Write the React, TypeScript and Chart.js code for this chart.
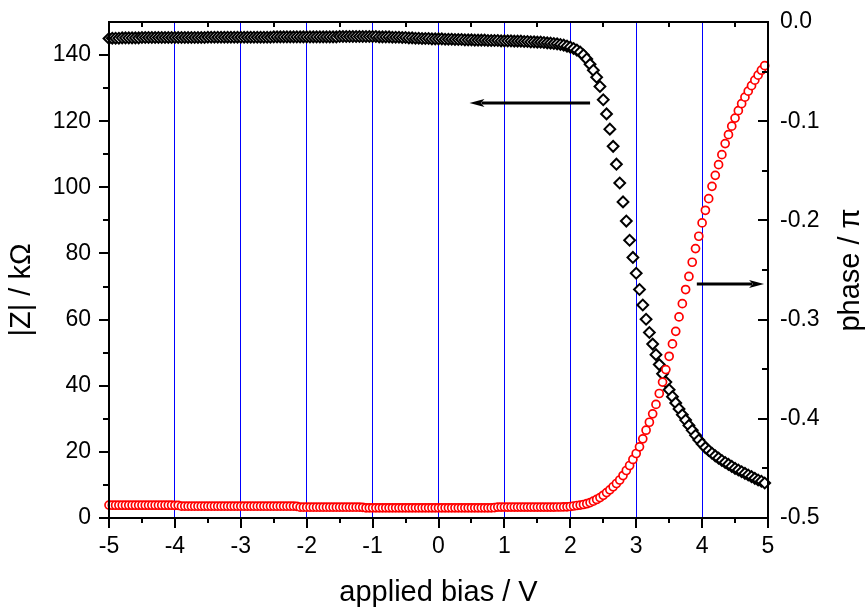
import React, { useEffect, useRef } from "react";
import { Chart, registerables } from "chart.js";

Chart.register(...registerables);

// applied bias (V)
const BIAS: number[] = [
  -5, -4.95, -4.9, -4.85, -4.8, -4.75, -4.7, -4.65, -4.6, -4.55, -4.5, -4.45, -4.4, -4.35, -4.3, -4.25, -4.2, -4.15, -4.1, -4.05,
  -4, -3.95, -3.9, -3.85, -3.8, -3.75, -3.7, -3.65, -3.6, -3.55, -3.5, -3.45, -3.4, -3.35, -3.3, -3.25, -3.2, -3.15, -3.1, -3.05,
  -3, -2.95, -2.9, -2.85, -2.8, -2.75, -2.7, -2.65, -2.6, -2.55, -2.5, -2.45, -2.4, -2.35, -2.3, -2.25, -2.2, -2.15, -2.1, -2.05,
  -2, -1.95, -1.9, -1.85, -1.8, -1.75, -1.7, -1.65, -1.6, -1.55, -1.5, -1.45, -1.4, -1.35, -1.3, -1.25, -1.2, -1.15, -1.1, -1.05,
  -1, -0.95, -0.9, -0.85, -0.8, -0.75, -0.7, -0.65, -0.6, -0.55, -0.5, -0.45, -0.4, -0.35, -0.3, -0.25, -0.2, -0.15, -0.1, -0.05,
  0, 0.05, 0.1, 0.15, 0.2, 0.25, 0.3, 0.35, 0.4, 0.45, 0.5, 0.55, 0.6, 0.65, 0.7, 0.75, 0.8, 0.85, 0.9, 0.95,
  1, 1.05, 1.1, 1.15, 1.2, 1.25, 1.3, 1.35, 1.4, 1.45, 1.5, 1.55, 1.6, 1.65, 1.7, 1.75, 1.8, 1.85, 1.9, 1.95,
  2, 2.05, 2.1, 2.15, 2.2, 2.25, 2.3, 2.35, 2.4, 2.45, 2.5, 2.55, 2.6, 2.65, 2.7, 2.75, 2.8, 2.85, 2.9, 2.95,
  3, 3.05, 3.1, 3.15, 3.2, 3.25, 3.3, 3.35, 3.4, 3.45, 3.5, 3.55, 3.6, 3.65, 3.7, 3.75, 3.8, 3.85, 3.9, 3.95,
  4, 4.05, 4.1, 4.15, 4.2, 4.25, 4.3, 4.35, 4.4, 4.45, 4.5, 4.55, 4.6, 4.65, 4.7, 4.75, 4.8, 4.85, 4.9, 4.95,
];

// |Z| (kOhm)
const IMPEDANCE: number[] = [
  145.0, 145.1, 145.1, 145.1, 145.2, 145.2, 145.2, 145.2, 145.2, 145.2, 145.3, 145.3, 145.3, 145.3, 145.3, 145.3, 145.3, 145.3, 145.3, 145.3,
  145.3, 145.3, 145.3, 145.3, 145.3, 145.3, 145.3, 145.3, 145.3, 145.3, 145.4, 145.4, 145.4, 145.4, 145.4, 145.4, 145.4, 145.4, 145.4, 145.4,
  145.4, 145.4, 145.4, 145.4, 145.4, 145.4, 145.4, 145.4, 145.4, 145.4, 145.5, 145.5, 145.5, 145.5, 145.5, 145.5, 145.5, 145.5, 145.5, 145.5,
  145.5, 145.5, 145.5, 145.5, 145.5, 145.5, 145.5, 145.5, 145.5, 145.5, 145.6, 145.6, 145.6, 145.6, 145.6, 145.6, 145.6, 145.6, 145.6, 145.6,
  145.6, 145.6, 145.5, 145.5, 145.5, 145.5, 145.4, 145.4, 145.4, 145.3, 145.3, 145.2, 145.2, 145.1, 145.1, 145.0, 145.0, 145.0, 144.9, 144.9,
  144.9, 144.9, 144.8, 144.8, 144.8, 144.7, 144.7, 144.7, 144.6, 144.6, 144.6, 144.5, 144.5, 144.5, 144.5, 144.4, 144.4, 144.4, 144.4, 144.3,
  144.3, 144.3, 144.3, 144.2, 144.2, 144.2, 144.1, 144.1, 144.0, 144.0, 143.9, 143.9, 143.8, 143.7, 143.6, 143.5, 143.4, 143.2, 143.0, 142.7,
  142.4, 142.0, 141.5, 140.9, 140.0, 138.8, 137.2, 135.4, 133.3, 130.5, 126.5, 122.2, 117.6, 112.4, 107.0, 101.3, 95.6, 89.8, 84.0, 78.8,
  74.0, 69.1, 64.4, 60.1, 56.1, 52.6, 49.4, 46.4, 43.6, 41.1, 38.8, 36.7, 34.8, 33.0, 31.2, 29.6, 28.0, 26.5, 25.0, 23.6,
  22.4, 21.3, 20.4, 19.6, 18.8, 18.1, 17.4, 16.8, 16.2, 15.6, 15.0, 14.5, 14.0, 13.5, 13.0, 12.5, 12.0, 11.5, 11.1, 10.6,
];

// phase (units of pi)
const PHASE: number[] = [
  -0.4870, -0.4871, -0.4871, -0.4871, -0.4871, -0.4871, -0.4871, -0.4871, -0.4871, -0.4871, -0.4871, -0.4871, -0.4871, -0.4871, -0.4871, -0.4871, -0.4871, -0.4871, -0.4871, -0.4871,
  -0.4872, -0.4872, -0.4881, -0.4881, -0.4881, -0.4881, -0.4881, -0.4881, -0.4881, -0.4881, -0.4881, -0.4881, -0.4881, -0.4881, -0.4881, -0.4881, -0.4881, -0.4881, -0.4881, -0.4881,
  -0.4881, -0.4881, -0.4881, -0.4881, -0.4881, -0.4881, -0.4881, -0.4881, -0.4881, -0.4881, -0.4881, -0.4881, -0.4881, -0.4881, -0.4881, -0.4881, -0.4881, -0.4882, -0.4891, -0.4891,
  -0.4891, -0.4891, -0.4891, -0.4891, -0.4891, -0.4891, -0.4891, -0.4891, -0.4891, -0.4891, -0.4891, -0.4891, -0.4891, -0.4891, -0.4891, -0.4891, -0.4891, -0.4892, -0.4897, -0.4897,
  -0.4897, -0.4897, -0.4897, -0.4897, -0.4897, -0.4897, -0.4897, -0.4897, -0.4897, -0.4897, -0.4897, -0.4897, -0.4897, -0.4897, -0.4897, -0.4897, -0.4897, -0.4897, -0.4897, -0.4897,
  -0.4897, -0.4897, -0.4897, -0.4897, -0.4897, -0.4897, -0.4897, -0.4897, -0.4897, -0.4897, -0.4897, -0.4897, -0.4897, -0.4897, -0.4897, -0.4897, -0.4897, -0.4896, -0.4890, -0.4890,
  -0.4890, -0.4890, -0.4890, -0.4890, -0.4890, -0.4890, -0.4890, -0.4890, -0.4890, -0.4890, -0.4890, -0.4890, -0.4890, -0.4890, -0.4890, -0.4890, -0.4889, -0.4889, -0.4888, -0.4887,
  -0.4884, -0.4879, -0.4874, -0.4870, -0.4864, -0.4856, -0.4845, -0.4830, -0.4813, -0.4794, -0.4771, -0.4744, -0.4716, -0.4685, -0.4652, -0.4617, -0.4572, -0.4521, -0.4471, -0.4410,
  -0.4350, -0.4283, -0.4202, -0.4115, -0.4035, -0.3950, -0.3855, -0.3745, -0.3630, -0.3504, -0.3370, -0.3245, -0.3118, -0.2973, -0.2839, -0.2697, -0.2565, -0.2422, -0.2284, -0.2160,
  -0.2025, -0.1898, -0.1781, -0.1657, -0.1546, -0.1438, -0.1337, -0.1226, -0.1136, -0.1050, -0.0969, -0.0894, -0.0823, -0.0758, -0.0697, -0.0642, -0.0586, -0.0536, -0.0486, -0.0440,
];

// axis ticks
const X_MAJOR = [-5, -4, -3, -2, -1, 0, 1, 2, 3, 4, 5];
const X_MINOR = [-4.5, -3.5, -2.5, -1.5, -0.5, 0.5, 1.5, 2.5, 3.5, 4.5];
const Z_MAJOR = [0, 20, 40, 60, 80, 100, 120, 140];
const Z_MINOR = [10, 30, 50, 70, 90, 110, 130];
const PH_MAJOR = [-0.5, -0.4, -0.3, -0.2, -0.1, 0];
const PH_MINOR = [-0.45, -0.35, -0.25, -0.15, -0.05];

// annotation arrows (data coordinates)
const ARROW_Z = { from: 2.3, to: 0.47, value: 125.5 };
const ARROW_PHASE = { from: 3.92, to: 4.94, value: -0.264 };

const X_TITLE = "applied bias / V";
const Y_TITLE = "|Z| / kΩ";
const Y2_TITLE = "phase / π";

const FONT = '"Liberation Sans", Arial, sans-serif';

function drawArrow(ctx: CanvasRenderingContext2D, x1: number, x2: number, y: number) {
  const dir = Math.sign(x2 - x1);
  const headLen = 15;
  const headHalf = 4;
  ctx.beginPath();
  ctx.moveTo(x1, y);
  ctx.lineTo(x2 - dir * headLen * 0.8, y);
  ctx.lineWidth = 3;
  ctx.strokeStyle = "#000";
  ctx.stroke();
  ctx.beginPath();
  ctx.moveTo(x2, y);
  ctx.lineTo(x2 - dir * headLen, y - headHalf);
  ctx.lineTo(x2 - dir * headLen * 0.75, y);
  ctx.lineTo(x2 - dir * headLen, y + headHalf);
  ctx.closePath();
  ctx.fillStyle = "#000";
  ctx.fill();
}

const decorPlugin = {
  id: "decor",
  afterDraw(chart: any) {
    const { ctx, chartArea: a, scales } = chart;
    const xs = scales.x;
    const ys = scales.y;
    const y2s = scales.y2;
    ctx.save();
    ctx.strokeStyle = "#000";
    ctx.lineWidth = 2;
    ctx.lineCap = "butt";
    ctx.beginPath();
    for (const v of X_MAJOR) {
      const px = Math.round(xs.getPixelForValue(v));
      ctx.moveTo(px, a.bottom);
      ctx.lineTo(px, a.bottom + 10);
    }
    for (const v of X_MINOR) {
      const px = Math.round(xs.getPixelForValue(v));
      ctx.moveTo(px, a.bottom);
      ctx.lineTo(px, a.bottom + 5);
      ctx.moveTo(px, a.top);
      ctx.lineTo(px, a.top + 5);
    }
    for (const v of Z_MAJOR) {
      const py = Math.round(ys.getPixelForValue(v));
      ctx.moveTo(a.left, py);
      ctx.lineTo(a.left - 10, py);
    }
    for (const v of Z_MINOR) {
      const py = Math.round(ys.getPixelForValue(v));
      ctx.moveTo(a.left, py);
      ctx.lineTo(a.left - 6, py);
    }
    for (const v of PH_MAJOR) {
      const py = Math.round(y2s.getPixelForValue(v));
      ctx.moveTo(a.right, py);
      ctx.lineTo(a.right - 10, py);
    }
    for (const v of PH_MINOR) {
      const py = Math.round(y2s.getPixelForValue(v));
      ctx.moveTo(a.right, py);
      ctx.lineTo(a.right - 6, py);
    }
    ctx.stroke();
    ctx.strokeRect(a.left, a.top, a.right - a.left, a.bottom - a.top);

    // arrows
    drawArrow(ctx, xs.getPixelForValue(ARROW_Z.from), xs.getPixelForValue(ARROW_Z.to), ys.getPixelForValue(ARROW_Z.value));
    drawArrow(ctx, xs.getPixelForValue(ARROW_PHASE.from), xs.getPixelForValue(ARROW_PHASE.to), y2s.getPixelForValue(ARROW_PHASE.value));

    // titles
    ctx.fillStyle = "#000";
    ctx.font = `29px ${FONT}`;
    ctx.textAlign = "center";
    ctx.textBaseline = "alphabetic";
    ctx.fillText(X_TITLE, (a.left + a.right) / 2, 601);
    const midY = (a.top + a.bottom) / 2;
    ctx.save();
    ctx.translate(30, midY + 20);
    ctx.rotate(-Math.PI / 2);
    ctx.fillText(Y_TITLE, 0, 0);
    ctx.restore();
    ctx.save();
    ctx.translate(859, midY);
    ctx.rotate(-Math.PI / 2);
    ctx.fillText(Y2_TITLE, 0, 0);
    ctx.restore();
    ctx.restore();
  },
};

export default function App() {
  const canvasRef = useRef<HTMLCanvasElement | null>(null);

  useEffect(() => {
    const canvas = canvasRef.current;
    if (!canvas) return;
    const zPoints = BIAS.map((b, i) => ({ x: b, y: IMPEDANCE[i] }));
    const phPoints = BIAS.map((b, i) => ({ x: b, y: PHASE[i] }));
    const tickFont = { family: FONT, size: 23 };
    const noPadX = (s: any) => { s.height = 95; s.paddingLeft = 0; s.paddingRight = 0; };
    const chart = new Chart(canvas, {
      type: "scatter",
      data: {
        datasets: [
          {
            label: "|Z|",
            data: zPoints,
            yAxisID: "y",
            pointStyle: "rectRot",
            pointRadius: 5.4,
            pointBorderWidth: 2,
            borderColor: "#000000",
            backgroundColor: "#ffffff",
            showLine: false,
            clip: false,
            order: 1,
          },
          {
            label: "phase",
            data: phPoints,
            yAxisID: "y2",
            pointStyle: "circle",
            pointRadius: 4,
            pointBorderWidth: 1.7,
            borderColor: "#ff0000",
            backgroundColor: "#ffffff",
            showLine: false,
            clip: false,
            order: 0,
          },
        ],
      },
      options: {
        responsive: false,
        animation: false,
        events: [],
        layout: { padding: { top: 22, left: 0, right: 0, bottom: 0 } },
        plugins: { legend: { display: false }, tooltip: { enabled: false } },
        scales: {
          x: {
            type: "linear",
            position: "bottom",
            min: -5,
            max: 5,
            afterFit: noPadX,
            ticks: {
              stepSize: 1,
              color: "#000",
              font: tickFont,
              padding: 15,
              maxRotation: 0,
              callback: (v: any) => String(v),
            },
            grid: {
              drawTicks: false,
              lineWidth: 1,
              color: (c: any) => (c.tick && Math.abs(c.tick.value) < 4.99 ? "#0000ff" : "rgba(0,0,0,0)"),
            },
            border: { display: false },
          },
          y: {
            type: "linear",
            position: "left",
            min: 0,
            max: 150,
            afterFit: (s: any) => { s.width = 109; s.paddingTop = 0; s.paddingBottom = 0; },
            ticks: {
              stepSize: 20,
              includeBounds: false,
              color: "#000",
              font: tickFont,
              padding: 18,
              callback: (v: any) => String(v),
            },
            grid: { display: false, drawTicks: false },
            border: { display: false },
          },
          y2: {
            type: "linear",
            position: "right",
            min: -0.5,
            max: 0,
            afterFit: (s: any) => { s.width = 97; s.paddingTop = 0; s.paddingBottom = 0; },
            ticks: {
              stepSize: 0.1,
              color: "#000",
              font: tickFont,
              padding: 12,
              callback: (v: any) => Number(v).toFixed(1),
            },
            grid: { display: false, drawTicks: false },
            border: { display: false },
          },
        },
      },
      plugins: [decorPlugin],
    });
    return () => chart.destroy();
  }, []);

  return (
    <div style={{ position: "fixed", left: 0, top: 0, width: 865, height: 613, background: "#fff" }}>
      <canvas ref={canvasRef} width={865} height={613} />
    </div>
  );
}
